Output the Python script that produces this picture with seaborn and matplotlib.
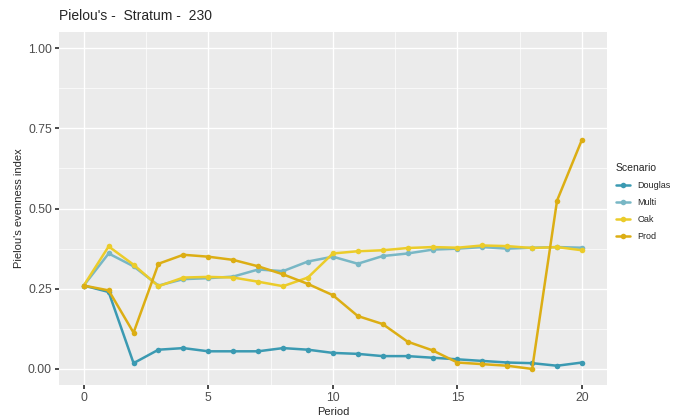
import matplotlib
matplotlib.use("Agg")
import matplotlib.pyplot as plt
import seaborn as sns
import pandas as pd
from matplotlib.ticker import MultipleLocator

periods = list(range(21))
douglas = [0.26, 0.24, 0.018, 0.06, 0.065, 0.055, 0.055, 0.055, 0.065, 0.06, 0.05,
           0.047, 0.04, 0.04, 0.035, 0.03, 0.025, 0.02, 0.018, 0.01, 0.02]
multi = [0.26, 0.36, 0.32, 0.26, 0.28, 0.283, 0.288, 0.31, 0.305, 0.335, 0.35,
         0.328, 0.352, 0.36, 0.372, 0.375, 0.38, 0.375, 0.378, 0.38, 0.378]
oak = [0.26, 0.382, 0.325, 0.258, 0.285, 0.287, 0.285, 0.272, 0.258, 0.285, 0.36,
       0.367, 0.37, 0.377, 0.38, 0.378, 0.385, 0.383, 0.377, 0.38, 0.37]
prod = [0.26, 0.245, 0.113, 0.328, 0.356, 0.35, 0.34, 0.32, 0.295, 0.265, 0.23,
        0.165, 0.14, 0.085, 0.058, 0.02, 0.015, 0.01, 0.0, 0.525, 0.715]
scenarios = ["Douglas", "Multi", "Oak", "Prod"]
colors = ["#3B9AB2", "#78B7C5", "#EBCC2A", "#DCAE14"]
y_ticks = [0, 0.25, 0.5, 0.75, 1.0]
y_ticklabels = ["0.00", "0.25", "0.50", "0.75", "1.00"]

df = pd.concat([
    pd.DataFrame({"Period": periods, "Pielou": vals, "Scenario": name})
    for name, vals in zip(scenarios, [douglas, multi, oak, prod])
])

sns.set_theme(style="darkgrid")
plt.rcParams["font.family"] = ["Liberation Sans", "DejaVu Sans"]

fig = plt.figure(figsize=(6.92, 4.18), dpi=100)
ax = fig.add_axes([0.085, 0.079, 0.792, 0.844])
ax.set_facecolor("#EBEBEB")

sns.lineplot(data=df, x="Period", y="Pielou", hue="Scenario", hue_order=scenarios,
             palette=colors, marker="o", markersize=4, markeredgewidth=0,
             linewidth=1.8, ax=ax)

ax.set_xlim(-1, 21)
ax.set_ylim(-0.05, 1.05)
ax.xaxis.set_major_locator(MultipleLocator(5))
ax.xaxis.set_minor_locator(MultipleLocator(2.5))
ax.set_yticks(y_ticks)
ax.set_yticklabels(y_ticklabels)
ax.yaxis.set_minor_locator(MultipleLocator(0.125))
ax.grid(which="major", color="white", linewidth=1.0)
ax.grid(which="minor", color="white", linewidth=0.5)
for s in ax.spines.values():
    s.set_visible(False)
ax.tick_params(axis="both", which="major", labelsize=8.8, labelcolor="#4D4D4D",
               length=3, color="#333333", pad=2, bottom=True, left=True)
ax.tick_params(which="minor", length=0)

ax.set_xlabel("Period", fontsize=8, labelpad=2)
ax.set_ylabel("Pielou's evenness index", fontsize=8, labelpad=3)
ax.set_title("Pielou's -  Stratum -  230", fontsize=10, loc="left", pad=9)

leg = ax.legend(title="Scenario", loc="upper left", bbox_to_anchor=(1.01, 0.64),
                frameon=False, fontsize=6.5, title_fontsize=7.5,
                handlelength=1.6, labelspacing=0.9, borderaxespad=0)
leg._legend_box.align = "left"

fig.savefig("out.png", dpi=100)
